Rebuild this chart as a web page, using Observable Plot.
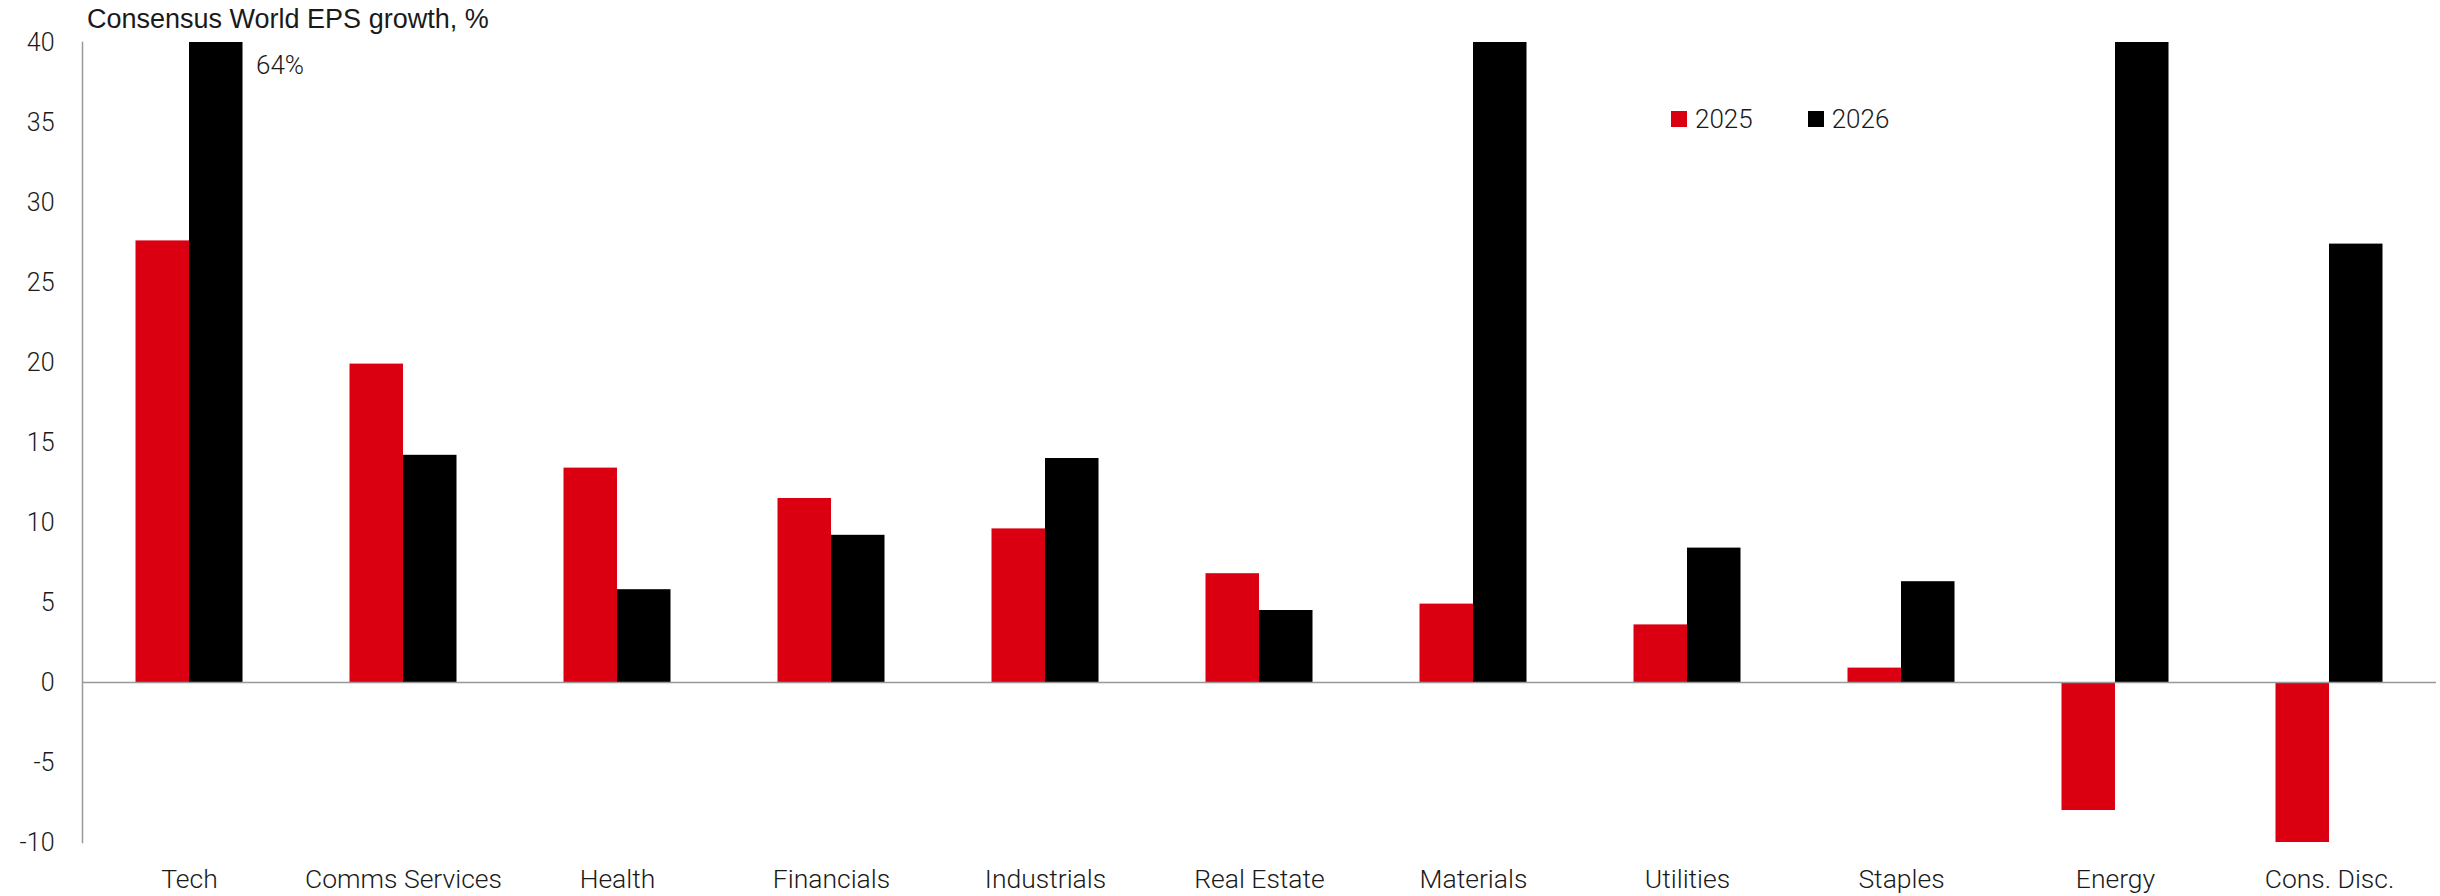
<!DOCTYPE html>
<html>
<head>
<meta charset="utf-8">
<script src="https://cdn.jsdelivr.net/npm/d3@7"></script>
<script src="https://cdn.jsdelivr.net/npm/@observablehq/plot@0.6"></script>
<style>
  body { margin: 0; background: #fff; font-family: Roboto, "Liberation Sans", Arial, sans-serif; color: #1a1a1a; }
  #wrap { position: relative; width: 2440px; height: 896px; overflow: hidden; }
  #title { height: 36px; line-height: 38px; padding-left: 87px; font-family: "Liberation Sans", Arial, sans-serif; font-size: 27px; font-weight: 400; color: #1a1a1a; white-space: nowrap; }
  #legend { position: absolute; left: 1671px; top: 106px; display: flex; gap: 55px; font-size: 26px; line-height: 26px; font-weight: 300; }
  #legend .item { display: flex; align-items: center; gap: 8px; }
  #legend .sw { width: 16px; height: 16px; }
  #chart svg text { font-weight: 300; }
</style>
</head>
<body>
<div id="wrap">
  <div id="title">Consensus World EPS growth, %</div>
  <div id="chart"></div>
  <div id="legend"></div>
</div>
<script>
// Sectors, left to right
const sectors = ["Tech", "Comms Services", "Health", "Financials", "Industrials", "Real Estate",
                 "Materials", "Utilities", "Staples", "Energy", "Cons. Disc."];
// Consensus EPS growth, % (values above 40 run off the top of the axis)
const eps2025 = [27.6, 19.9, 13.4, 11.5, 9.6, 6.8, 4.9, 3.6, 0.9, -8.0, -10.0];
const eps2026 = [64, 14.2, 5.8, 9.2, 14.0, 4.5, 40, 8.4, 6.3, 40, 27.4];
const years = ["2025", "2026"];
const colors = ["#db0011", "#000000"];
const yTicks = [-10, -5, 0, 5, 10, 15, 20, 25, 30, 35, 40];
const calloutSector = "Tech";

const rows2025 = sectors.map((s, i) => ({sector: s, value: eps2025[i]}));
const rows2026 = sectors.map((s, i) => ({sector: s, value: eps2026[i]}));

const width = 2440, height = 860;
const marginLeft = 82, marginRight = 4;
// each sector band holds the two year bars side by side
const step = (width - marginLeft - marginRight) / sectors.length;
const half = step * 0.5 / 2;

const chart = Plot.plot({
  width, height,
  marginLeft, marginRight, marginTop: 6, marginBottom: 54,
  style: {fontFamily: "Roboto, 'Liberation Sans', Arial, sans-serif", color: "#1a1a1a", background: "#fff", overflow: "visible"},
  x: {domain: sectors, paddingInner: 0.5, paddingOuter: 0.25, round: false},
  y: {domain: [-10, 40], clamp: true},
  marks: [
    Plot.barY(rows2025, {x: "sector", y: "value", fill: colors[0], insetRight: half}),
    Plot.barY(rows2026, {x: "sector", y: "value", fill: colors[1], insetLeft: half}),
    Plot.ruleY([0], {stroke: "#999", strokeWidth: 1.5}),
    Plot.frame({anchor: "left", stroke: "#999", strokeWidth: 1.5}),
    Plot.axisY({ticks: yTicks, tickSize: 0, tickPadding: 28, fontSize: 25, tickFormat: d => String(d), label: null}),
    Plot.axisX({tickSize: 0, tickPadding: 27, fontSize: 26.5, label: null}),
    Plot.text(rows2026.filter(d => d.sector === calloutSector), {
      x: "sector", y: "value", text: d => `${d.value}%`,
      textAnchor: "start", dx: half + 13, dy: 23, fontSize: 26
    })
  ]
});
document.getElementById("chart").appendChild(chart);

// legend
const legend = document.getElementById("legend");
years.forEach((y, i) => {
  const item = document.createElement("div");
  item.className = "item";
  const sw = document.createElement("div");
  sw.className = "sw";
  sw.style.background = colors[i];
  const label = document.createElement("span");
  label.textContent = y;
  item.append(sw, label);
  legend.append(item);
});
</script>
</body>
</html>
